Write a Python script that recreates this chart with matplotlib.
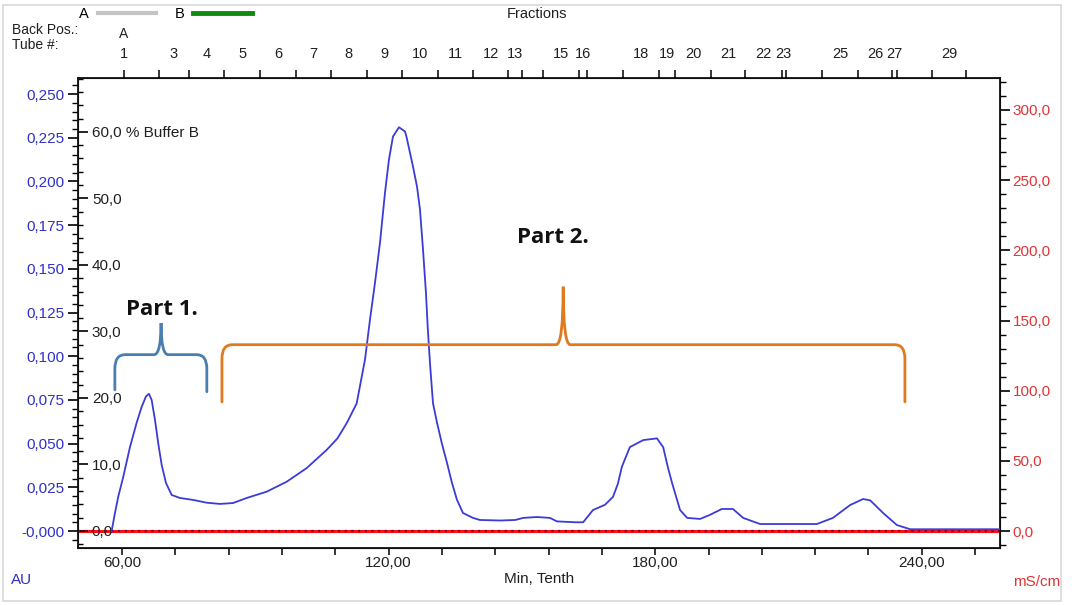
import matplotlib
matplotlib.use("Agg")
import matplotlib.pyplot as plt
from matplotlib.path import Path
from matplotlib.patches import PathPatch, Rectangle
from matplotlib.lines import Line2D
from matplotlib.ticker import MultipleLocator, FixedLocator, FuncFormatter, NullFormatter

plt.rcParams['font.family'] = ['Liberation Sans', 'DejaVu Sans']

# UV trace, elution time (min) vs absorbance (AU)
time_min = [57.68, 58.42, 59.17, 60.29, 61.8, 63.31, 64.43, 65.4, 66.08, 66.68, 67.43,
            68.17, 68.94, 69.9, 71.19, 73.05, 75.98, 79.06, 82.06, 85.0, 88.07, 92.57,
            97.07, 101.57, 106.07, 108.5, 110.64, 112.82, 114.69, 115.82, 116.94,
            118.07, 119.19, 120.09, 120.99, 122.34, 123.7, 124.08, 125.5, 126.4,
            127.07, 127.75, 128.42, 128.8, 129.32, 130.0, 130.9, 132.0, 133.15,
            134.27, 135.4, 136.75, 139.0, 140.58, 145.1, 148.5, 150.3, 153.4, 156.3,
            157.9, 162.0, 163.8, 166.0, 168.7, 170.5, 171.6, 172.5, 174.3, 177.3,
            180.4, 181.8, 182.9, 183.8, 185.6, 187.2, 190.1, 192.3, 195.0, 197.5,
            199.8, 203.6, 216.4, 220.0, 223.9, 226.8, 228.4, 231.3, 234.4, 237.4, 257.6]
uv_au = [0.000, 0.0103, 0.0197, 0.031, 0.048, 0.062, 0.071, 0.077, 0.0785, 0.075, 0.0636,
         0.050, 0.0378, 0.0275, 0.0206, 0.0189, 0.0178, 0.0162, 0.0155, 0.016, 0.0189, 0.0225,
         0.0282, 0.036, 0.0464, 0.053, 0.062, 0.073, 0.098, 0.121, 0.142,
         0.165, 0.1935, 0.2126, 0.2257, 0.231, 0.2286, 0.225, 0.2085, 0.197,
         0.184, 0.161, 0.136, 0.117, 0.096, 0.073, 0.062, 0.050, 0.039,
         0.0275, 0.0178, 0.0103, 0.0075, 0.0063, 0.006, 0.0063, 0.0075, 0.008, 0.0075,
         0.0055, 0.005, 0.005, 0.012, 0.015, 0.0195, 0.027, 0.0367, 0.048, 0.052,
         0.053, 0.048, 0.036, 0.0275, 0.012, 0.0075, 0.0069, 0.0092, 0.0126, 0.0126,
         0.0075, 0.004, 0.004, 0.0075, 0.0149, 0.0183, 0.0175, 0.0103, 0.0034, 0.001, 0.001]

# conductivity (mS/cm) and gradient (% B), flat through the run
cond_time = [50.1, 257.6]
cond_ms = [0.0, 0.0]
conc_b = [0.0, 0.0]

# fraction collector: tube change times (min) and the tube numbers printed
frac_edges = [60.45, 68.3, 75.1, 83.0, 91.1, 99.2, 107.0, 115.1, 123.0, 131.1, 139.0,
              146.9, 150.0, 154.8, 162.9, 164.7, 172.8, 180.9, 184.5, 192.6, 200.2,
              208.5, 209.4, 217.5, 225.7, 233.3, 234.4, 242.3, 250.0]
frac_shown = [1, 3, 4, 5, 6, 7, 8, 9, 10, 11, 12, 13, 15, 16, 18, 19, 20, 21, 22, 23,
              25, 26, 27, 29]

TXT = '#202020'


def comma(fmt):
    return FuncFormatter(lambda v, p: fmt.format(v).replace('.', ','))


fig = plt.figure(figsize=(10.77, 6.05), dpi=100)
ax = fig.add_axes([0.0724, 0.0942, 0.8561, 0.7769])
ax.set_xlim(50.1, 257.6)
ax.set_ylim(-0.00973, 0.2592)

# conductivity axis (right)
axc = ax.twinx()
axc.set_ylim(-12.1, 322.8)
axc.plot(cond_time, cond_ms, color='#FF1010', lw=2.2, zorder=2)
axc.yaxis.set_major_locator(MultipleLocator(50))
axc.yaxis.set_minor_locator(MultipleLocator(10))
axc.yaxis.set_major_formatter(comma('{:.1f}'))
axc.tick_params(axis='y', which='major', direction='out', length=7, width=1.2,
                pad=2, labelsize=11, labelcolor='#E03535')
axc.tick_params(axis='y', which='minor', direction='out', length=4, width=1.0)

# % buffer B axis, drawn on the left spine with labels inside the plot
axb = ax.twinx()
axb.set_ylim(-2.56, 68.1)
axb.plot(cond_time, conc_b, color='#8A0030', lw=1.6, ls=(0, (1, 2)), zorder=3)
axb.yaxis.set_ticks_position('left')
axb.yaxis.set_major_locator(FixedLocator([0, 10, 20, 30, 40, 50, 60]))
axb.yaxis.set_minor_locator(MultipleLocator(2))
axb.yaxis.set_major_formatter(FuncFormatter(
    lambda v, p: '60,0 % Buffer B' if round(v) == 60 else f'{v:.1f}'.replace('.', ',')))
axb.tick_params(axis='y', which='major', direction='in', length=7, width=1.2,
                pad=-10, labelsize=11, labelcolor=TXT)
axb.tick_params(axis='y', which='minor', direction='in', length=3.5, width=1.0)
for s in axb.spines.values():
    s.set_visible(False)
for lab in axb.get_yticklabels():
    lab.set_horizontalalignment('left')

# UV trace on top
ax.set_zorder(axb.get_zorder() + 1)
ax.patch.set_visible(False)
ax.plot(time_min, uv_au, color='#3B3BD8', lw=1.3, zorder=4)

ax.yaxis.set_major_locator(MultipleLocator(0.025))
ax.yaxis.set_minor_locator(MultipleLocator(0.005))
ax.yaxis.set_major_formatter(FuncFormatter(
    lambda v, p: '-0,000' if abs(v) < 1e-9 else f'{v:.3f}'.replace('.', ',')))
ax.tick_params(axis='y', which='major', direction='out', length=7, width=1.2,
               pad=3, labelsize=11, labelcolor='#3030C8')
ax.tick_params(axis='y', which='minor', direction='out', length=4, width=1.0)

ax.xaxis.set_major_locator(MultipleLocator(60))
ax.xaxis.set_minor_locator(MultipleLocator(12))
ax.xaxis.set_major_formatter(comma('{:.2f}'))
ax.tick_params(axis='x', which='both', direction='out', length=5, width=1.1,
               pad=1, labelsize=11, labelcolor=TXT)
ax.set_xlabel('Min, Tenth', fontsize=11, color=TXT, labelpad=1)

for s in ax.spines.values():
    s.set_linewidth(1.3)
    s.set_color('#111111')

# fraction ticks along the top
axf = ax.twiny()
axf.set_xlim(ax.get_xlim())
axf.xaxis.remove_overlapping_locs = False
centres = [frac_edges[0] if n == 1 else (frac_edges[n - 2] + frac_edges[n - 1]) / 2
           for n in frac_shown]
axf.xaxis.set_major_locator(FixedLocator(frac_edges))
axf.xaxis.set_major_formatter(NullFormatter())
axf.xaxis.set_minor_locator(FixedLocator(centres))
axf.xaxis.set_minor_formatter(FuncFormatter(
    lambda v, p: str(frac_shown[p]) if p is not None and p < len(frac_shown) else ''))
axf.tick_params(axis='x', which='major', direction='out', length=6, width=1.1)
axf.tick_params(axis='x', which='minor', length=0, pad=12, labelsize=10.5,
                labelcolor=TXT)
for s in axf.spines.values():
    s.set_visible(False)
ax.annotate('A', xy=(frac_edges[0], 1.0), xycoords=('data', 'axes fraction'),
            xytext=(0, 32), textcoords='offset points', ha='center', va='center',
            fontsize=10, color=TXT)


def brace(x0, x1, xm, y, y_end0, y_end1, y_tip, color):
    rx, ry = 2.3, 0.008
    tx = 1.6
    verts = [(x0, y_end0), (x0, y - ry), (x0, y), (x0 + rx, y), (xm - tx, y),
             (xm, y), (xm, y_tip), (xm, y), (xm + tx, y), (x1 - rx, y), (x1, y),
             (x1, y - ry), (x1, y_end1)]
    codes = [Path.MOVETO, Path.LINETO, Path.CURVE3, Path.CURVE3, Path.LINETO,
             Path.CURVE3, Path.CURVE3, Path.CURVE3, Path.CURVE3, Path.LINETO,
             Path.CURVE3, Path.CURVE3, Path.LINETO]
    ax.add_patch(PathPatch(Path(verts, codes), fill=False, edgecolor=color,
                           lw=2.0, zorder=5, capstyle='round'))


brace(58.4, 79.1, 68.8, 0.1009, 0.0808, 0.0797, 0.119, '#4A7EB0')
brace(82.5, 236.2, 159.3, 0.1066, 0.0739, 0.0739, 0.1398, '#E07A1E')
ax.text(69.0, 0.1265, 'Part 1.', ha='center', va='center', fontsize=16,
        fontweight='bold', family=['Open Sans', 'DejaVu Sans'], color='#111111', zorder=6)
ax.text(157.0, 0.1677, 'Part 2.', ha='center', va='center', fontsize=16,
        fontweight='bold', family=['Open Sans', 'DejaVu Sans'], color='#111111', zorder=6)

# header: run legend, fraction caption, tube row captions
fig.legend(handles=[Line2D([], [], color='#C4C4C4', lw=3, label='A'),
                    Line2D([], [], color='#108A10', lw=3.5, label='B')],
           loc='center left', bbox_to_anchor=(66 / 1077, 1 - 14 / 605), ncol=2,
           markerfirst=False, frameon=False, handlelength=4.0, columnspacing=1.3,
           handletextpad=0.6, fontsize=10.5)
fig.text(537 / 1077, 1 - 14 / 605, 'Fractions', ha='center', va='center',
         fontsize=10.5, color=TXT)
fig.text(12 / 1077, 1 - 30 / 605, 'Back Pos.:', ha='left', va='center',
         fontsize=10, color=TXT)
fig.text(12 / 1077, 1 - 45 / 605, 'Tube #:', ha='left', va='center',
         fontsize=10, color=TXT)
fig.text(22 / 1077, 1 - 580 / 605, 'AU', ha='center', va='center',
         fontsize=11, color='#3030C8')
fig.text(1037 / 1077, 1 - 582 / 605, 'mS/cm', ha='center', va='center',
         fontsize=11, color='#E03535')

fig.patches.append(Rectangle((0.003, 0.006), 0.982, 0.985, transform=fig.transFigure,
                             fill=False, edgecolor='#D8D8D8', lw=1.2))

fig.savefig('out.png', dpi=100)
